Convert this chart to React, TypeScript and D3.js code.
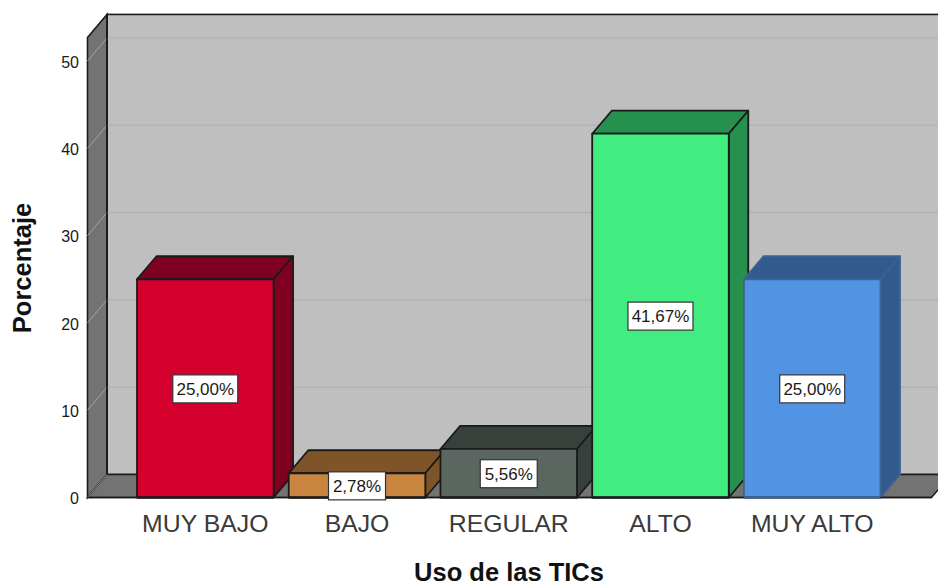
import * as d3 from "d3";

// Data
const CATEGORIES = ["MUY BAJO", "BAJO", "REGULAR", "ALTO", "MUY ALTO"];
const VALUES = [25.0, 2.78, 5.56, 41.67, 25.0];
const VALUE_LABELS = ["25,00%", "2,78%", "5,56%", "41,67%", "25,00%"];
const Y_TICKS = [0, 10, 20, 30, 40, 50];

// Palette
const FRONT = ["#d6002e", "#c9853f", "#5b6660", "#41ec80", "#5294e3"];
const SHADE = ["#7f0020", "#7f5428", "#38403c", "#26904f", "#335a8e"];
const EDGE = ["#1a1a1a", "#1a1a1a", "#1a1a1a", "#1a1a1a", "#3c6394"];
const WALL = "#bfbfbf";
const SIDE_WALL = "#737373";
const GRID = "#b3b3b3";
const SIDE_GRID = "#a3a3a3";
const OUTLINE = "#1a1a1a";
const FONT = "'Liberation Sans', Arial, sans-serif";

// Layout, the 3D offset is the shift from front plane to back plane
const WIDTH = 938;
const HEIGHT = 585;
const DX = 19.5;
const DY = -23;
const FLOOR_LEFT = 87.5;
const FLOOR_RIGHT = 931.5;
const Y_TOP = 52.7;

const y = d3.scaleLinear().domain([0, 50]).range([497.5, 61]);
const x = d3
  .scaleBand<string>()
  .domain(CATEGORIES)
  .range([137, 880.5])
  .paddingInner(0.1)
  .paddingOuter(0);

function poly(points: [number, number][]): string {
  return (d3.line()(points) ?? "") + "Z";
}

export default function App() {
  const y0 = y(0);
  const yTop = y(Y_TOP);

  return (
    <svg
      width={WIDTH}
      height={HEIGHT}
      style={{ position: "absolute", left: 0, top: 0, background: "white" }}
    >
      {/* Back wall */}
      <rect
        x={FLOOR_LEFT + DX}
        y={yTop + DY}
        width={WIDTH}
        height={y0 - yTop}
        fill={WALL}
        stroke={OUTLINE}
        strokeWidth={1.6}
      />

      {/* Left wall */}
      <path
        d={poly([
          [FLOOR_LEFT, yTop],
          [FLOOR_LEFT + DX, yTop + DY],
          [FLOOR_LEFT + DX, y0 + DY],
          [FLOOR_LEFT, y0],
        ])}
        fill={SIDE_WALL}
        stroke={OUTLINE}
        strokeWidth={1.6}
      />

      {/* Floor */}
      <path
        d={poly([
          [FLOOR_LEFT, y0],
          [FLOOR_LEFT + DX, y0 + DY],
          [FLOOR_RIGHT + DX, y0 + DY],
          [FLOOR_RIGHT, y0],
        ])}
        fill={SIDE_WALL}
        stroke={OUTLINE}
        strokeWidth={1.4}
      />

      {/* Gridlines on both walls */}
      {Y_TICKS.filter((t) => t > 0).map((t) => (
        <g key={t}>
          <line
            x1={FLOOR_LEFT + DX}
            x2={WIDTH}
            y1={y(t) + DY}
            y2={y(t) + DY}
            stroke={GRID}
            strokeWidth={1.6}
          />
          <line
            x1={FLOOR_LEFT}
            x2={FLOOR_LEFT + DX}
            y1={y(t)}
            y2={y(t) + DY}
            stroke={SIDE_GRID}
            strokeWidth={1}
          />
        </g>
      ))}
      <line
        x1={FLOOR_LEFT}
        x2={FLOOR_LEFT + DX}
        y1={y0}
        y2={y0 + DY}
        stroke={SIDE_GRID}
        strokeWidth={1}
      />
      <line
        x1={FLOOR_LEFT + DX}
        x2={FLOOR_LEFT + DX}
        y1={yTop + DY}
        y2={y0 + DY}
        stroke={OUTLINE}
        strokeWidth={1.6}
      />

      {/* Y tick labels */}
      {Y_TICKS.map((t) => (
        <text
          key={t}
          x={79}
          y={y(t) + 1}
          dy="0.35em"
          textAnchor="end"
          fontSize={16}
          fontFamily={FONT}
          fill="#1a1a1a"
        >
          {t}
        </text>
      ))}

      {/* Bars, left to right so each one covers the previous side face */}
      {CATEGORIES.map((cat, i) => {
        const left = x(cat) ?? 0;
        const right = left + x.bandwidth();
        const top = y(VALUES[i]);
        return (
          <g key={cat} stroke={EDGE[i]} strokeWidth={1.8} strokeLinejoin="round">
            <path
              d={poly([
                [left, top],
                [left + DX, top + DY],
                [right + DX, top + DY],
                [right, top],
              ])}
              fill={SHADE[i]}
            />
            <path
              d={poly([
                [right, top],
                [right + DX, top + DY],
                [right + DX, y0 + DY],
                [right, y0],
              ])}
              fill={SHADE[i]}
            />
            <rect x={left} y={top} width={right - left} height={y0 - top} fill={FRONT[i]} />
          </g>
        );
      })}

      {/* Floor front edge */}
      <line x1={FLOOR_LEFT} x2={FLOOR_RIGHT} y1={y0} y2={y0} stroke={OUTLINE} strokeWidth={1.4} />
      {CATEGORIES.map((cat, i) => (
        <line
          key={cat}
          x1={x(cat) ?? 0}
          x2={(x(cat) ?? 0) + x.bandwidth()}
          y1={y0}
          y2={y0}
          stroke={EDGE[i]}
          strokeWidth={1.8}
        />
      ))}

      {/* Value labels */}
      {CATEGORIES.map((cat, i) => {
        const cx = (x(cat) ?? 0) + x.bandwidth() / 2;
        const cy = y(VALUES[i] / 2) + 0.5;
        const boxW = VALUE_LABELS[i].length > 5 ? 65 : 57;
        return (
          <g key={cat}>
            <rect
              x={cx - boxW / 2}
              y={cy - 14}
              width={boxW}
              height={28}
              fill="white"
              stroke="#333333"
              strokeWidth={1.2}
            />
            <text
              x={cx}
              y={cy}
              dy="0.35em"
              textAnchor="middle"
              fontSize={17}
              fontFamily={FONT}
              fill="#1a1a1a"
            >
              {VALUE_LABELS[i]}
            </text>
          </g>
        );
      })}

      {/* Category labels */}
      {CATEGORIES.map((cat) => (
        <text
          key={cat}
          x={(x(cat) ?? 0) + x.bandwidth() / 2}
          y={531.5}
          textAnchor="middle"
          fontSize={24.8}
          fontFamily={FONT}
          fill="#3a3a3a"
        >
          {cat}
        </text>
      ))}

      {/* Axis titles */}
      <text
        x={509}
        y={581}
        textAnchor="middle"
        fontSize={25.5}
        fontWeight={700}
        fontFamily={FONT}
        fill="#111111"
      >
        Uso de las TICs
      </text>
      <text
        transform="translate(31,268) rotate(-90)"
        textAnchor="middle"
        fontSize={25.5}
        fontWeight={700}
        fontFamily={FONT}
        fill="#111111"
      >
        Porcentaje
      </text>
    </svg>
  );
}
